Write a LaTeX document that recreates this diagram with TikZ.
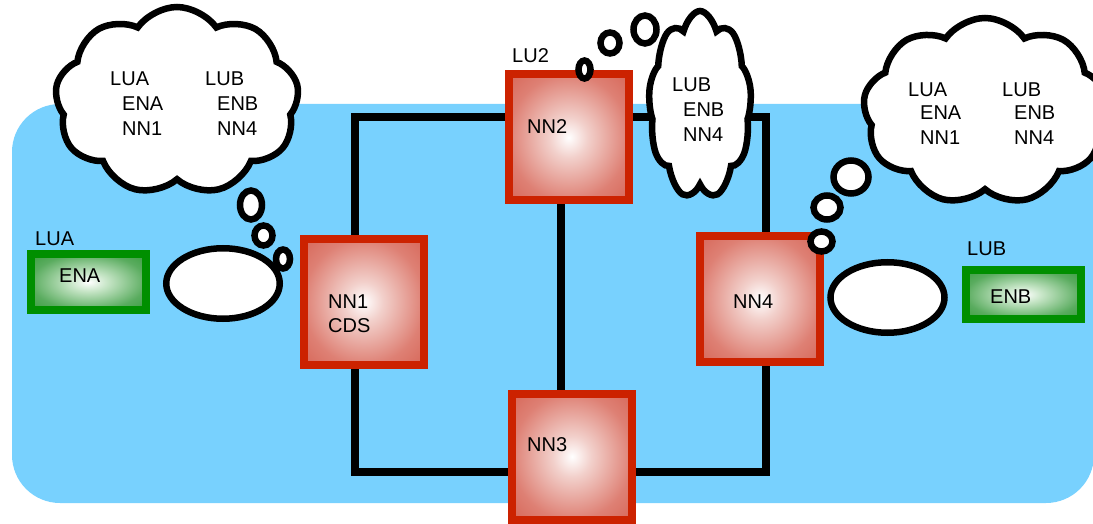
\documentclass[tikz,border=0pt]{standalone}
\usepackage{fontspec}
\setmainfont{Liberation Sans}
\usetikzlibrary{shapes.symbols}

\definecolor{cellblue}{RGB}{120,209,254}
\definecolor{nnred}{RGB}{204,34,0}
\definecolor{nnpink}{RGB}{242,208,203}
\definecolor{nnmid}{RGB}{222,128,116}
\definecolor{nnedge}{RGB}{210,88,72}
\definecolor{nncorner}{RGB}{204,60,45}
\definecolor{engreen}{RGB}{0,143,0}
\definecolor{enpale}{RGB}{200,230,200}
\definecolor{enmid}{RGB}{90,172,95}
\definecolor{enedge}{RGB}{35,148,42}
\definecolor{encorner}{RGB}{10,132,15}

\pgfdeclareradialshading{nnglow}{\pgfpoint{0bp}{0bp}}{color(0bp)=(white); color(8bp)=(nnpink); color(25bp)=(nnmid); color(42bp)=(nnedge); color(71bp)=(nncorner)}
\pgfdeclareradialshading{englow}{\pgfpoint{0bp}{0bp}}{color(0bp)=(white); color(8bp)=(enpale); color(25bp)=(enmid); color(42bp)=(enedge); color(71bp)=(encorner)}

\tikzset{
	nnbox/.style={draw=nnred, line width=8pt, shading=nnglow, minimum width=120pt, minimum height=126pt, inner sep=0pt},
	enbox/.style={draw=engreen, line width=8pt, shading=englow, minimum width=115pt, inner sep=0pt},
	wire/.style={line width=8pt},
	thought/.style={draw, fill=white, line width=6.5pt},
	puffy/.style={thought, cloud, cloud puffs=9, cloud puff arc=110, minimum width=244pt},
	word/.style={anchor=base west, inner sep=0pt},
}

\begin{document}
\begin{tikzpicture}[x=1pt, y=-1pt, font=\fontsize{20}{25}\selectfont]
	\clip (0, 0) rectangle (1093, 524);
	\fill [cellblue, rounded corners=48pt] (12, 104) rectangle (1094, 503);
	% wire ring
	\coordinate (ringNW) at (355, 117);
	\coordinate (ringNE) at (766, 117);
	\coordinate (ringSE) at (766, 472);
	\coordinate (ringSW) at (355, 472);
	\coordinate (spine) at (561, 300);
	\draw [wire] (ringNW) -- (ringNE) -- (ringSE) -- (ringSW) -- cycle;
	% name nodes
	\node [nnbox] (nn1) at (363.5, 302) {};
	\node [nnbox] (nn2) at (568.5, 137.5) {};
	\node [nnbox] (nn3) at (572, 456.5) {};
	\node [nnbox] (nn4) at (760, 299) {};
	\draw [wire] (nn2.south -| spine) -- (nn3.north -| spine);
	% end nodes
	\node [enbox, minimum height=56pt] (ena) at (88.5, 282) {};
	\node [enbox, minimum height=49pt] (enb) at (1023, 294.5) {};
	% thoughts
	\node [puffy, minimum height=188pt] (cloudA) at (177, 101) {};
	\begin{scope}[shift={(700, 105.5)}, xscale=0.42]
		\node [puffy, minimum height=189pt, transform shape] (cloudM) at (0, 0) {};
	\end{scope}
	\node [puffy, minimum height=187pt] (cloudB) at (985, 111.5) {};
	\draw [thought] (251, 205) ellipse (11 and 14.5);
	\draw [thought] (263.5, 235.5) ellipse (9 and 10);
	\draw [thought] (223, 283.5) ellipse (56.75 and 35.25);
	\draw [thought] (283, 259) ellipse (7 and 9.5);
	\draw [thought] (584.5, 69.5) ellipse (6 and 9);
	\draw [thought] (610, 43) ellipse (9.5 and 10.5);
	\draw [thought] (645, 29.5) ellipse (11.5 and 14);
	\draw [thought] (851, 177) ellipse (17.5 and 16.5);
	\draw [thought] (827, 207.5) ellipse (13.5 and 12);
	\draw [thought] (821.5, 241.5) ellipse (11 and 10);
	\draw [thought] (887.5, 297.5) ellipse (57 and 35.25);
	% texts
	\node [word] (cAlua) at (110, 86) {LUA};
	\node [word] (cAena) at (122, 111) {ENA};
	\node [word] (cAnn1) at (122, 136) {NN1};
	\node [word] (cAlub) at (205, 86) {LUB};
	\node [word] (cAenb) at (217, 111) {ENB};
	\node [word] (cAnn4) at (217, 136) {NN4};
	\node [word] (cMlub) at (672, 92) {LUB};
	\node [word] (cMenb) at (683, 117) {ENB};
	\node [word] (cMnn4) at (683, 142) {NN4};
	\node [word] (cBlua) at (908, 97) {LUA};
	\node [word] (cBena) at (920, 120) {ENA};
	\node [word] (cBnn1) at (920, 145) {NN1};
	\node [word] (cBlub) at (1002, 97) {LUB};
	\node [word] (cBenb) at (1014, 120) {ENB};
	\node [word] (cBnn4) at (1014, 145) {NN4};
	\node [word] (luaLabel) at (35, 245) {LUA};
	\node [word] (enaLabel) at (59, 282) {ENA};
	\node [word] (lubLabel) at (967, 255) {LUB};
	\node [word] (enbLabel) at (990, 303) {ENB};
	\node [word] (nn1Label) at (328, 308) {NN1};
	\node [word] (cdsLabel) at (328, 332) {CDS};
	\node [word] (lu2Label) at (512, 63) {LU2};
	\node [word] (nn2Label) at (527, 134) {NN2};
	\node [word] (nn3Label) at (527, 451) {NN3};
	\node [word] (nn4Label) at (733, 308) {NN4};
\end{tikzpicture}
\end{document}
